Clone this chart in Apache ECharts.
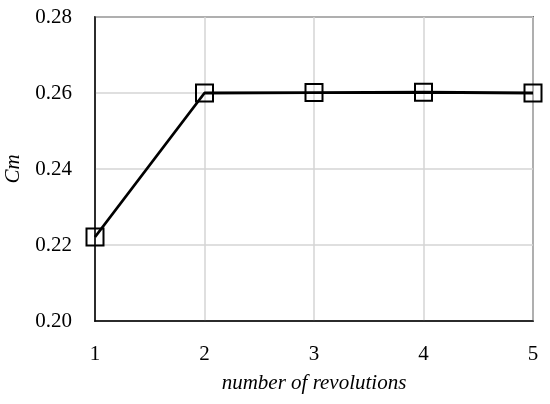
<!DOCTYPE html>
<html><head><meta charset="utf-8">
<script src="https://cdn.jsdelivr.net/npm/echarts@6/dist/echarts.min.js"></script>
<style>html,body{margin:0;padding:0;background:#fff}#c{width:550px;height:404px}</style>
</head><body><div id="c"></div>
<script>
const revolutions = [1, 2, 3, 4, 5];
const cmValues = [0.2221, 0.2600, 0.2601, 0.2602, 0.2600];
const xTicks = [1, 2, 3, 4, 5];
const yTicks = [0.20, 0.22, 0.24, 0.26, 0.28];

const font = '"Liberation Serif", "DejaVu Serif", serif';
const chart = echarts.init(document.getElementById('c'), null, {renderer: 'canvas'});
chart.setOption({
  animation: false,
  grid: {left: 95, right: 17, top: 17, bottom: 83, show: true, borderColor: '#000', borderWidth: 1.5, backgroundColor: 'transparent', containLabel: false, outerBoundsMode: 'none'},
  xAxis: {
    type: 'value', min: xTicks[0], max: xTicks[xTicks.length - 1], interval: 1,
    name: 'number of revolutions', nameLocation: 'middle', nameGap: 52,
    nameTextStyle: {fontFamily: font, fontStyle: 'italic', fontSize: 21, color: '#000'},
    axisLine: {show: true, lineStyle: {color: '#000', width: 1.5}},
    axisTick: {show: false},
    axisLabel: {fontFamily: font, fontSize: 21, color: '#000', margin: 23},
    splitLine: {show: true, lineStyle: {color: '#d4d4d4', width: 1.5}}
  },
  yAxis: {
    type: 'value', min: yTicks[0], max: yTicks[yTicks.length - 1], interval: 0.02,
    name: 'Cm', nameLocation: 'middle', nameGap: 70, nameRotate: 90,
    nameTextStyle: {fontFamily: font, fontStyle: 'italic', fontSize: 21, color: '#000'},
    axisLine: {show: true, lineStyle: {color: '#000', width: 1.5}},
    axisTick: {show: false},
    axisLabel: {fontFamily: font, fontSize: 21, color: '#000', margin: 23, formatter: v => v.toFixed(2)},
    splitLine: {show: true, lineStyle: {color: '#d4d4d4', width: 1.5}}
  },
  series: [{
    type: 'line',
    data: revolutions.map((r, i) => [r, cmValues[i]]),
    clip: false,
    symbol: 'rect', symbolSize: 17,
    lineStyle: {color: '#000', width: 2.8},
    itemStyle: {color: 'rgba(0,0,0,0)', borderColor: '#000', borderWidth: 2},
    z: 5
  }]
});
</script></body></html>
